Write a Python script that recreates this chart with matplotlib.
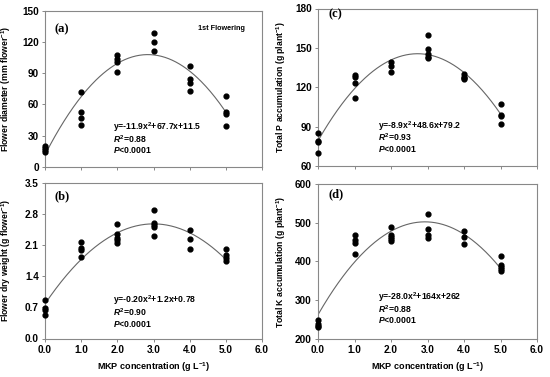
import matplotlib
matplotlib.use('Agg')
import matplotlib.pyplot as plt
import numpy as np

plt.rcParams['font.family'] = 'Liberation Sans'
plt.rcParams['font.weight'] = 'bold'
plt.rcParams['mathtext.fontset'] = 'custom'
plt.rcParams['mathtext.rm'] = 'Liberation Sans:bold'
plt.rcParams['mathtext.it'] = 'Liberation Sans:italic:bold'
plt.rcParams['mathtext.bf'] = 'Liberation Sans:bold'

# data
x_a = [0]*4 + [1]*4 + [2]*4 + [3]*3 + [4]*4 + [5]*4
y_a = [20, 18, 16, 14, 72, 53, 47, 40, 107, 104, 101, 91,
       129, 120, 111, 97, 84, 80, 73, 68, 53, 51, 39]
x_b = [0]*4 + [1]*4 + [2]*5 + [3]*5 + [4]*3 + [5]*4
y_b = [0.86, 0.68, 0.64, 0.53, 2.17, 2.03, 2.0, 1.83,
       2.57, 2.35, 2.27, 2.21, 2.16, 2.90, 2.60, 2.55, 2.51, 2.30,
       2.44, 2.23, 2.02, 2.02, 1.87, 1.82, 1.74]
x_c = [0]*4 + [1]*4 + [2]*3 + [3]*5 + [4]*4 + [5]*4
y_c = [85, 79, 78, 70, 129, 128, 123, 112, 139, 136, 132,
       160, 149, 145, 143, 142, 130, 128, 127, 126, 107, 99, 98, 92]
x_d = [0]*4 + [1]*4 + [2]*5 + [3]*4 + [4]*3 + [5]*5
y_d = [248, 238, 234, 230, 469, 456, 448, 419,
       490, 467, 462, 457, 453, 523, 484, 469, 461,
       478, 462, 444, 414, 391, 386, 381, 375]

coef_a = [-11.9, 67.7, 11.5]
coef_b = [-0.20, 1.2, 0.78]
coef_c = [-8.9, 48.6, 79.2]
coef_d = [-28.0, 164, 262]

eq_a = ['y=-11.9x$^2$+67.7x+11.5', '$R^2$=0.88', '$P$<0.0001']
eq_b = ['y=-0.20x$^2$+1.2x+0.78', '$R^2$=0.90', '$P$<0.0001']
eq_c = ['y=-8.9x$^2$+48.6x+79.2', '$R^2$=0.93', '$P$<0.0001']
eq_d = ['y=-28.0x$^2$+164x+262', '$R^2$=0.88', '$P$<0.0001']

xticks = [0, 1, 2, 3, 4, 5, 6]
xticklabels = ['0.0', '1.0', '2.0', '3.0', '4.0', '5.0', '6.0']

fig = plt.figure(figsize=(5.5, 3.77), dpi=100)
W, H = 550.0, 377.0

def make_ax(l, t, r, b):
    return fig.add_axes([l/W, 1 - b/H, (r - l)/W, (b - t)/H])

ax_a = make_ax(45, 10.7, 262, 166.7)
ax_b = make_ax(45, 183, 262, 338.5)
ax_c = make_ax(318, 8.5, 537, 166)
ax_d = make_ax(318, 184, 537, 338.7)

panels = [
    (ax_a, x_a, y_a, coef_a, eq_a, (0, 150), np.arange(0, 151, 30), None,
     'Flower diameter (mm flower$^{-1}$)', '(a)', (0.042, 0.883), (0.312, 0.252)),
    (ax_b, x_b, y_b, coef_b, eq_b, (0, 3.5), np.arange(0, 3.51, 0.7), '%.1f',
     'Flower dry weight (g flower$^{-1}$)', '(b)', (0.046, 0.916), (0.312, 0.244)),
    (ax_c, x_c, y_c, coef_c, eq_c, (60, 180), np.arange(60, 181, 30), None,
     'Total P accumulation (g plant$^{-1}$)', '(c)', (0.048, 0.962), (0.275, 0.256)),
    (ax_d, x_d, y_d, coef_d, eq_d, (200, 600), np.arange(200, 601, 100), None,
     'Total K accumulation (g plant$^{-1}$)', '(d)', (0.048, 0.935), (0.273, 0.266)),
]

for ax, xs, ys, coef, eq, ylim, yt, fmt, ylab, tag, tagpos, eqpos in panels:
    xf = np.linspace(0, 5, 200)
    ax.plot(xf, np.polyval(coef, xf), color='#666666', lw=0.8, zorder=2)
    ax.scatter(xs, ys, s=12, color='black', zorder=3, clip_on=False)
    ax.set_xlim(0, 6)
    ax.set_ylim(*ylim)
    ax.set_yticks(yt)
    if fmt:
        ax.set_yticklabels([fmt % v for v in yt])
    else:
        ax.set_yticklabels(['%d' % v for v in yt])
    ax.set_xticks(xticks)
    for sp in ax.spines.values():
        sp.set_color('#888888')
        sp.set_linewidth(0.8)
    ax.tick_params(direction='out', length=2.5, width=0.7, color='#888888',
                   labelsize=7.2, pad=2)
    ax.set_ylabel(ylab, fontsize=6.2, fontweight='bold')
    ax.text(tagpos[0], tagpos[1], tag, transform=ax.transAxes, family='Liberation Serif',
            fontweight='bold', fontsize=9, va='center', ha='left')
    for i, line in enumerate(eq):
        ax.text(eqpos[0], eqpos[1] - i*0.074, line, transform=ax.transAxes,
                fontsize=6.2, fontweight='bold', va='center', ha='left')

ax_a.yaxis.set_label_coords(-0.147, 0.5)
ax_b.yaxis.set_label_coords(-0.147, 0.5)
ax_c.yaxis.set_label_coords(-0.138, 0.5)
ax_d.yaxis.set_label_coords(-0.138, 0.5)

for ax in (ax_a, ax_c):
    ax.set_xticklabels([])
for ax in (ax_b, ax_d):
    ax.set_xticklabels(xticklabels)
    ax.set_xlabel('MKP concentration (g L$^{-1}$)', fontsize=6.5, fontweight='bold', labelpad=4)

ax_a.text(0.92, 0.883, '1st Flowering', transform=ax_a.transAxes, fontsize=5.2,
          fontweight='bold', ha='right', va='center')

fig.savefig('out.png', dpi=100)
